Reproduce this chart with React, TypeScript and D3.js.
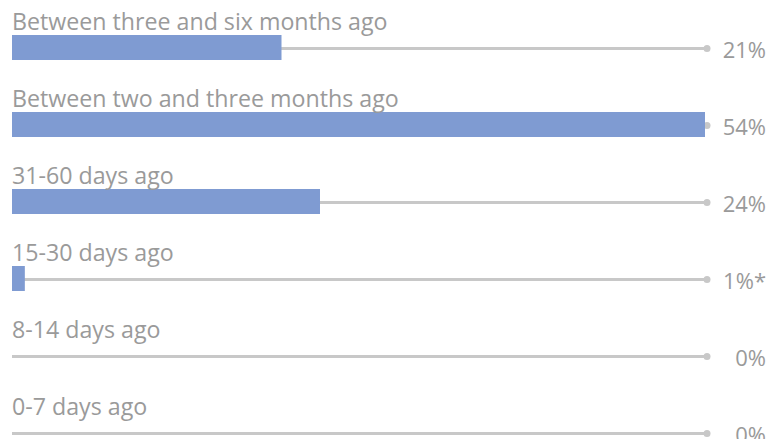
import React from "react";
import * as d3 from "d3";

const categories = [
  "Between three and six months ago",
  "Between two and three months ago",
  "31-60 days ago",
  "15-30 days ago",
  "8-14 days ago",
  "0-7 days ago",
];
const values = [21, 54, 24, 1, 0, 0];
const valueLabels = ["21%", "54%", "24%", "1%*", "0%", "0%"];

const W = 780;
const H = 439;
const FONT = "'Open Sans', 'Noto Sans', sans-serif";

export default function App() {
  const x = d3.scaleLinear().domain([0, 54]).range([12, 705]);
  const y = d3.scaleBand<string>().domain(categories).range([9, 9 + 77 * 6]).padding(0);
  const barH = 25;
  const trackEnd = 707;
  return (
    <svg width={W} height={H} style={{ position: "absolute", left: 0, top: 0 }}>
      {categories.map((c, i) => {
        const cy = (y(c) as number) + y.bandwidth() / 2;
        return (
          <g key={c}>
            <line x1={x(0)} x2={trackEnd} y1={cy + 1} y2={cy + 1} stroke="#c8c8c8" strokeWidth={3} />
            <circle cx={trackEnd} cy={cy + 1} r={3.5} fill="#c8c8c8" />
            {values[i] > 0 && (
              <rect x={x(0)} y={cy - barH / 2} width={x(values[i]) - x(0)} height={barH} fill="#7f9bd2" />
            )}
            <text x={12} y={cy - barH / 2 - 5} fontFamily={FONT} fontSize={23.2} fill="#9a9a9a">
              {c}
            </text>
            <text x={766} y={cy + 10.5} textAnchor="end" fontFamily={FONT} fontSize={22} fill="#9a9a9a">
              {valueLabels[i]}
            </text>
          </g>
        );
      })}
    </svg>
  );
}
